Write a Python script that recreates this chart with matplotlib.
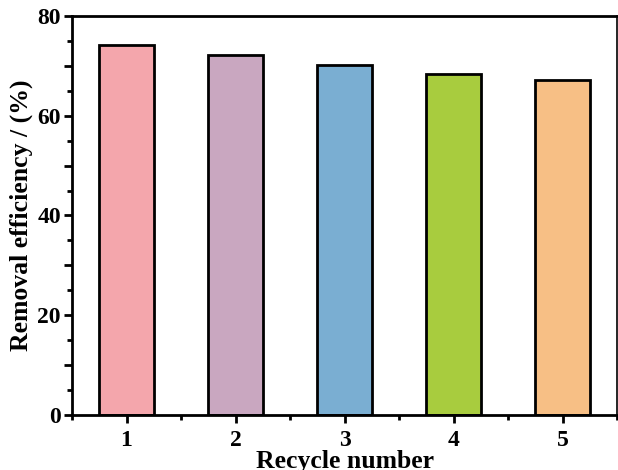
import matplotlib
matplotlib.use('Agg')
import matplotlib.pyplot as plt
from matplotlib.ticker import MultipleLocator, FuncFormatter

cycles = [1, 2, 3, 4, 5]
efficiency = [74.1, 72.1, 70.2, 68.4, 67.2]
colors = ['#F4A6AC', '#C9A7C0', '#7AAED2', '#A8CC3E', '#F7BF85']

plt.rcParams['font.family'] = 'Liberation Serif'
plt.rcParams['font.weight'] = 'bold'

fig = plt.figure(figsize=(6.18, 4.70), dpi=100)
ax = fig.add_axes([0.1165, 0.117, 0.882, 0.849])

ax.bar(cycles, efficiency, width=0.5, color=colors, edgecolor='black', linewidth=2)

ax.set_xlim(0.5, 5.5)
ax.set_ylim(0, 80)
ax.set_xticks(cycles)
ax.xaxis.set_minor_locator(MultipleLocator(0.5))
ax.yaxis.set_major_locator(MultipleLocator(10))
ax.yaxis.set_minor_locator(MultipleLocator(5))
ax.yaxis.set_major_formatter(FuncFormatter(lambda v, p: '%d' % v if v % 20 == 0 else ''))

ax.tick_params(axis='both', which='major', direction='out', length=6, width=2, labelsize=17)
ax.tick_params(axis='both', which='minor', direction='out', length=3.5, width=2)
ax.tick_params(axis='x', pad=5)
ax.tick_params(axis='y', pad=2)

for s in ['left', 'bottom', 'top']:
    ax.spines[s].set_linewidth(2)
ax.spines['right'].set_linewidth(1.2)

ax.set_xlabel('Recycle number', fontsize=18.5, fontweight='bold', labelpad=-1)
ax.set_ylabel('Removal efficiency / (%)', fontsize=18.5, fontweight='bold', labelpad=3)

fig.savefig('out.png', dpi=100)
